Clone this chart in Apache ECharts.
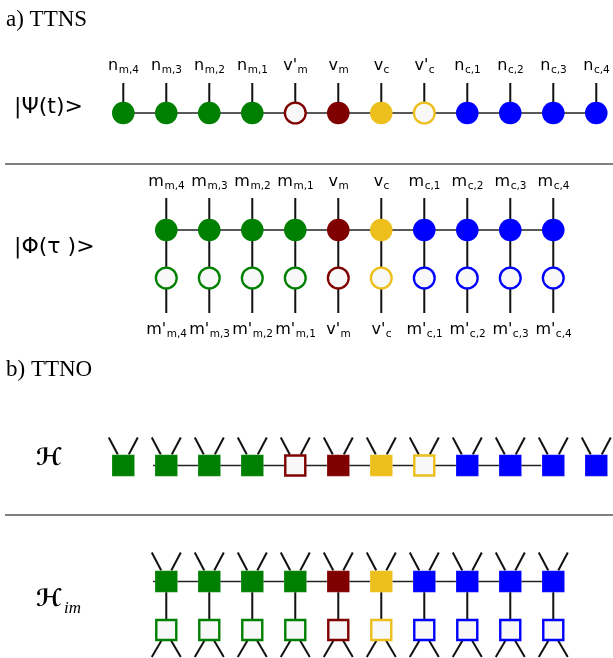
<!DOCTYPE html>
<html>
<head>
<meta charset="utf-8">
<script src="https://cdn.jsdelivr.net/npm/echarts@6/dist/echarts.min.js"></script>
<style>
  html, body { margin: 0; padding: 0; background: #ffffff; }
  #chart { width: 613px; height: 658px; }
</style>
</head>
<body>
<div id="chart"></div>
<script>
// ---- chain sites (column index along the chain) ----
const chainSites = [0, 1, 2, 3, 4, 5, 6, 7, 8, 9, 10, 11];
const chainColors = ['#008000', '#008000', '#008000', '#008000', '#800000', '#800000',
                     '#ecbf1c', '#ecbf1c', '#0000ff', '#0000ff', '#0000ff', '#0000ff'];
const chainOpen = [false, false, false, false, true, false, false, true, false, false, false, false];
const psiLabels = ['n_m,4', 'n_m,3', 'n_m,2', 'n_m,1', "v'_m", 'v_m', 'v_c', "v'_c",
                   'n_c,1', 'n_c,2', 'n_c,3', 'n_c,4'];

// ---- doubled (purified) sites ----
const pairSites = [1, 2, 3, 4, 5, 6, 7, 8, 9, 10];
const pairColors = ['#008000', '#008000', '#008000', '#008000', '#800000',
                    '#ecbf1c', '#0000ff', '#0000ff', '#0000ff', '#0000ff'];
const phiTopLabels = ['m_m,4', 'm_m,3', 'm_m,2', 'm_m,1', 'v_m', 'v_c',
                      'm_c,1', 'm_c,2', 'm_c,3', 'm_c,4'];
const phiBottomLabels = ["m'_m,4", "m'_m,3", "m'_m,2", "m'_m,1", "v'_m", "v'_c",
                         "m'_c,1", "m'_c,2", "m'_c,3", "m'_c,4"];

// bond extents (in site units) for the operator rows
const hBond = [0.69, 9.72];
const himBond = [0.69, 10];

// vertical placement of each row (page rows, top = 0)
const rows = { psi: 113, phiTop: 230, phiBottom: 278, h: 465.5, himTop: 581.5, himBottom: 630 };

const OPEN_FILL = '#f8f8f8';
const LEG = '#111111';
const BOND = '#222222';
const LABEL_FONT = '16px "DejaVu Sans"';
const SUB_FONT = '10.5px "DejaVu Sans"';

const measureCtx = document.createElement('canvas').getContext('2d');
function textWidth(t, font) { measureCtx.font = font; return measureCtx.measureText(t).width; }

// index label: main symbol followed by a lowered subscript, centred on cx
function indexLabel(str, cx, cy) {
  const parts = str.split('_');
  const main = parts[0], sub = parts[1] || '';
  const wMain = textWidth(main, LABEL_FONT);
  const wSub = textWidth(sub, SUB_FONT);
  const x0 = cx - (wMain + wSub) / 2;
  return [
    { type: 'text', x: x0, y: cy, style: { text: main, font: LABEL_FONT, fill: '#000', align: 'left', verticalAlign: 'middle' } },
    { type: 'text', x: x0 + wMain + 0.5, y: cy + 4.5, style: { text: sub, font: SUB_FONT, fill: '#000', align: 'left', verticalAlign: 'middle' } }
  ];
}

function seg(x1, y1, x2, y2, w) {
  return { type: 'line', shape: { x1, y1, x2, y2 }, style: { stroke: LEG, lineWidth: w || 2 } };
}
function circleNode(cx, cy, color, open) {
  return open
    ? { type: 'circle', shape: { cx, cy, r: 10.4 }, style: { fill: OPEN_FILL, stroke: color, lineWidth: 2.3 } }
    : { type: 'circle', shape: { cx, cy, r: 11.3 }, style: { fill: color } };
}
function squareNode(cx, cy, color, open) {
  return open
    ? { type: 'rect', shape: { x: cx - 10, y: cy - 10, width: 20, height: 20 }, style: { fill: OPEN_FILL, stroke: color, lineWidth: 2.4 } }
    : { type: 'rect', shape: { x: cx - 11.3, y: cy - 10.8, width: 22.6, height: 21.6 }, style: { fill: color, stroke: 'rgba(255,255,255,0.25)', lineWidth: 0.8 } };
}

const option = {
  animation: false,
  backgroundColor: '#ffffff',
  grid: { left: 0, right: 0, top: 0, bottom: 0 },
  xAxis: { type: 'value', min: -2.867, max: 11.389, show: false },
  yAxis: { type: 'value', min: 0, max: 658, inverse: true, show: false },
  graphic: [
    { type: 'text', x: 6, y: 20, style: { text: 'a) TTNS', font: '23px "Liberation Serif"', fill: '#000', verticalAlign: 'middle' } },
    { type: 'text', x: 14, y: 107, style: { text: '|Ψ(t)>', font: '22px "DejaVu Sans"', fill: '#000', verticalAlign: 'middle' } },
    { type: 'line', shape: { x1: 5, y1: 164, x2: 613, y2: 164 }, style: { stroke: '#555', lineWidth: 1.5 } },
    { type: 'text', x: 14, y: 247, style: { text: '|Φ(τ )>', font: '22px "DejaVu Sans"', fill: '#000', verticalAlign: 'middle' } },
    { type: 'text', x: 6, y: 370, style: { text: 'b) TTNO', font: '23px "Liberation Serif"', fill: '#000', verticalAlign: 'middle' } },
    { type: 'text', x: 36, y: 459, style: { text: 'ℋ', font: 'bold 24px "DejaVu Sans"', fill: '#000', verticalAlign: 'middle' } },
    { type: 'line', shape: { x1: 5, y1: 515, x2: 613, y2: 515 }, style: { stroke: '#555', lineWidth: 1.5 } },
    { type: 'text', x: 36, y: 600, style: { text: 'ℋ', font: 'bold 24px "DejaVu Sans"', fill: '#000', verticalAlign: 'middle' } },
    { type: 'text', x: 64, y: 609, style: { text: 'im', font: 'italic 17px "Liberation Serif"', fill: '#000', verticalAlign: 'middle' } }
  ],
  series: [
    // bonds
    { type: 'line', silent: true, symbol: 'none', z: 1, lineStyle: { color: BOND, width: 1.5 },
      data: [[chainSites[0], rows.psi], [chainSites[chainSites.length - 1], rows.psi]] },
    { type: 'line', silent: true, symbol: 'none', z: 1, lineStyle: { color: BOND, width: 1.5 },
      data: [[pairSites[0], rows.phiTop], [pairSites[pairSites.length - 1], rows.phiTop]] },
    { type: 'line', silent: true, symbol: 'none', z: 1, lineStyle: { color: BOND, width: 1.5 },
      data: [[hBond[0], rows.h], [hBond[1], rows.h]] },
    { type: 'line', silent: true, symbol: 'none', z: 1, lineStyle: { color: BOND, width: 1.5 },
      data: [[himBond[0], rows.himTop], [himBond[1], rows.himTop]] },

    // |Psi(t)> chain
    { type: 'custom', z: 3, silent: true,
      data: chainSites.map(s => [s, rows.psi]),
      renderItem(params, api) {
        const i = params.dataIndex;
        const p = api.coord([api.value(0), api.value(1)]);
        return { type: 'group', children: [
          seg(p[0], p[1] - 30, p[0], p[1]),
          circleNode(p[0], p[1], chainColors[i], chainOpen[i]),
          ...indexLabel(psiLabels[i], p[0], p[1] - 47)
        ] };
      } },

    // |Phi(tau)> doubled chain
    { type: 'custom', z: 3, silent: true,
      data: pairSites.map(s => [s, rows.phiTop, rows.phiBottom]),
      renderItem(params, api) {
        const i = params.dataIndex;
        const p = api.coord([api.value(0), api.value(1)]);
        const q = api.coord([api.value(0), api.value(2)]);
        return { type: 'group', children: [
          seg(p[0], p[1] - 32, p[0], p[1]),
          seg(p[0], p[1], q[0], q[1]),
          seg(q[0], q[1], q[0], q[1] + 35),
          circleNode(p[0], p[1], pairColors[i], false),
          circleNode(q[0], q[1], pairColors[i], true),
          ...indexLabel(phiTopLabels[i], p[0], p[1] - 48),
          ...indexLabel(phiBottomLabels[i], q[0], q[1] + 52)
        ] };
      } },

    // H operator chain
    { type: 'custom', z: 3, silent: true,
      data: chainSites.map(s => [s, rows.h]),
      renderItem(params, api) {
        const i = params.dataIndex;
        const p = api.coord([api.value(0), api.value(1)]);
        const top = p[1] - 11;
        return { type: 'group', children: [
          seg(p[0] - 5.5, top, p[0] - 14.5, top - 17),
          seg(p[0] + 5.5, top, p[0] + 14.5, top - 17),
          squareNode(p[0], p[1], chainColors[i], chainOpen[i])
        ] };
      } },

    // H_im doubled operator chain
    { type: 'custom', z: 3, silent: true,
      data: pairSites.map(s => [s, rows.himTop, rows.himBottom]),
      renderItem(params, api) {
        const i = params.dataIndex;
        const p = api.coord([api.value(0), api.value(1)]);
        const q = api.coord([api.value(0), api.value(2)]);
        const top = p[1] - 11, bot = q[1] + 10;
        return { type: 'group', children: [
          seg(p[0] - 5, top, p[0] - 14.5, top - 18),
          seg(p[0] + 5, top, p[0] + 14.5, top - 18),
          seg(p[0], p[1], q[0], q[1]),
          seg(q[0] - 4.5, bot, q[0] - 14.5, bot + 17),
          seg(q[0] + 4.5, bot, q[0] + 14.5, bot + 17),
          squareNode(p[0], p[1], pairColors[i], false),
          squareNode(q[0], q[1], pairColors[i], true)
        ] };
      } }
  ]
};

const chart = echarts.init(document.getElementById('chart'), null, { renderer: 'canvas' });
chart.setOption(option);
</script>
</body>
</html>
